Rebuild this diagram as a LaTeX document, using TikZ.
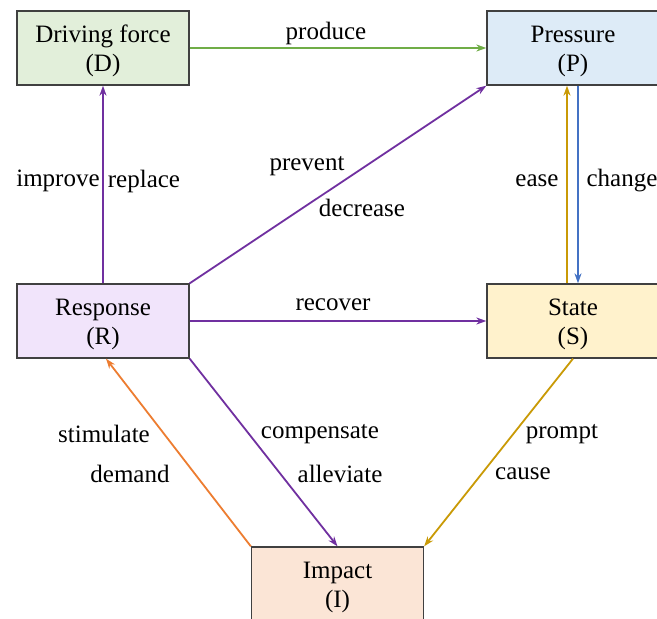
\documentclass[tikz,border=0pt]{standalone}
\usepackage{fontspec}
\setmainfont{Liberation Serif}
\usetikzlibrary{arrows.meta}
\definecolor{cgreen}{HTML}{70AD47}
\definecolor{cpurple}{HTML}{7030A0}
\definecolor{cgold}{HTML}{C99A06}
\definecolor{cblue}{HTML}{4472C4}
\definecolor{corange}{HTML}{ED7D31}
\definecolor{fD}{HTML}{E2EFDA}
\definecolor{fP}{HTML}{DDEBF7}
\definecolor{fR}{HTML}{F1E4FB}
\definecolor{fS}{HTML}{FFF2CC}
\definecolor{fI}{HTML}{FBE5D6}
\definecolor{cborder}{HTML}{404040}
\tikzset{
  box/.style={draw=cborder, line width=1.3pt, minimum width=172pt, minimum height=74pt,
    inner sep=0pt, align=center, font=\rmfamily\fontsize{25}{29}\selectfont},
  txt/.style={inner sep=0pt, align=center, font=\rmfamily\fontsize{25}{29}\selectfont},
  lbl/.style={font=\rmfamily\fontsize{25}{29}\selectfont, inner sep=0pt},
  conn/.style={line width=1.8pt, -{Stealth[length=10pt,width=7pt]}},
}
\begin{document}
\begin{tikzpicture}[x=1pt,y=-1pt]
\useasboundingbox[fill=white] (0,0) rectangle (657,619);
\node[box, fill=fD] (D) at (103,48) {};
\node[box, fill=fP] (P) at (573,48) {};
\node[box, fill=fR] (R) at (103,321) {};
\node[box, fill=fS] (S) at (573,321) {};
\node[box, fill=fI] (I) at (337.5,584) {};
\node[txt] (tD) at ([yshift=-3pt]D.center) {Driving force\\(D)};
\node[txt] (tP) at ([yshift=-3pt]P.center) {Pressure\\(P)};
\node[txt] (tR) at ([yshift=-3pt]R.center) {Response\\(R)};
\node[txt] (tS) at ([yshift=-3pt]S.center) {State\\(S)};
\node[txt] (tI) at ([yshift=-3pt]I.center) {Impact\\(I)};

\draw[conn, cgreen] (D.east) -- (P.west);
\draw[conn, cpurple] (R.north) -- (D.south);
\draw[conn, cpurple] (R.north east) -- (P.south west);
\draw[conn, cpurple] (R.east) -- (S.west);
\draw[conn, cpurple] (R.south east) -- (I.north);
\draw[conn, corange] (I.north west) -- ([xshift=3pt]R.south);
\draw[conn, cgold] (S.south) -- (I.north east);
\draw[conn, cgold] ([xshift=-6pt]S.north) -- ([xshift=-6pt]P.south);
\draw[conn, cblue] ([xshift=5pt]P.south) -- ([xshift=5pt]S.north);

\node[lbl] (lproduce) at (326,33) {produce};
\node[lbl] (limprove) at (58,181) {improve};
\node[lbl] (lreplace) at (144,181) {replace};
\node[lbl] (lprevent) at (307,166) {prevent};
\node[lbl] (ldecrease) at (362,208) {decrease};
\node[lbl] (lease) at (537,181) {ease};
\node[lbl] (lchange) at (622,181) {change};
\node[lbl] (lrecover) at (333,305) {recover};
\node[lbl] (lstimulate) at (104,434) {stimulate};
\node[lbl] (ldemand) at (130,474) {demand};
\node[lbl] (lcompensate) at (320,434) {compensate};
\node[lbl] (lalleviate) at (340,474) {alleviate};
\node[lbl] (lprompt) at (562,434) {prompt};
\node[lbl] (lcause) at (523,474) {cause};
\end{tikzpicture}
\end{document}
